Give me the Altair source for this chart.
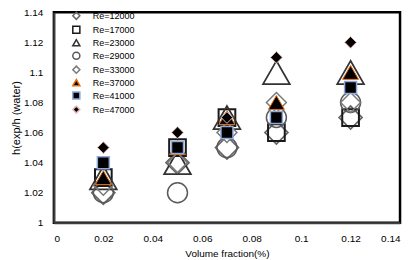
import altair as alt
import pandas as pd

x_vals = [0.02, 0.05, 0.07, 0.09, 0.12]
series_labels = ["Re=12000", "Re=17000", "Re=23000", "Re=29000",
                 "Re=33000", "Re=37000", "Re=41000", "Re=47000"]
re_12000 = [1.02, 1.04, 1.05, 1.06, 1.07]
re_17000 = [1.03, 1.05, 1.07, 1.06, 1.07]
re_23000 = [1.03, 1.04, 1.07, 1.10, 1.10]
re_29000 = [1.02, 1.02, 1.05, 1.07, 1.08]
re_33000 = [1.025, 1.04, 1.06, 1.08, 1.08]
re_37000 = [1.03, 1.05, 1.07, 1.08, 1.10]
re_41000 = [1.04, 1.05, 1.06, 1.07, 1.09]
re_47000 = [1.05, 1.06, 1.07, 1.11, 1.12]
series_values = [re_12000, re_17000, re_23000, re_29000,
                 re_33000, re_37000, re_41000, re_47000]

x_ticks = [0, 0.02, 0.04, 0.06, 0.08, 0.1, 0.12, 0.14]
y_ticks = [1, 1.02, 1.04, 1.06, 1.08, 1.1, 1.12, 1.14]

# marker styles (one per series)
shapes = ["diamond", "square", "triangle-up", "circle",
          "diamond", "triangle-up", "square", "diamond"]
fills = ["transparent"] * 5 + ["#000000"] * 3
strokes = ["#666666", "#1a1a1a", "#333333", "#5a5a5a",
           "#7a7a7a", "#E46C0A", "#8EA9DB", "#E6B8B7"]
sizes = [529, 280, 720, 400, 400, 256, 144, 137]
stroke_widths = [1.75, 2, 1.75, 1.5, 1.5, 1, 1.5, 1]

rows = []
for i, (lab, vals) in enumerate(zip(series_labels, series_values)):
    for x, y in zip(x_vals, vals):
        rows.append({"Re": lab, "x": x, "y": y,
                     "sz": sizes[i], "sw": stroke_widths[i]})
df = pd.DataFrame(rows)

FONT = "Liberation Sans"

legend = alt.Legend(title=None, orient="none", legendX=18, legendY=-1,
                    padding=0, rowPadding=-1, symbolSize=50,
                    symbolStrokeWidth=1.5, labelFontSize=9,
                    labelFont=FONT, labelColor="#000", labelOffset=12)

chart = (
    alt.Chart(df)
    .mark_point(opacity=1, filled=False)
    .encode(
        x=alt.X("x:Q", scale=alt.Scale(domain=[0, 0.14], nice=False),
                axis=alt.Axis(values=x_ticks, format="~g", title="Volume fraction(%)",
                              labelPadding=11, titlePadding=5)),
        y=alt.Y("y:Q", scale=alt.Scale(domain=[1, 1.14], nice=False, zero=False),
                axis=alt.Axis(values=y_ticks, format="~g", title="h(exp/h (water)",
                              labelPadding=11, titlePadding=2, titleFontSize=11)),
        shape=alt.Shape("Re:N", scale=alt.Scale(domain=series_labels, range=shapes), legend=legend),
        fill=alt.Fill("Re:N", scale=alt.Scale(domain=series_labels, range=fills), legend=legend),
        stroke=alt.Stroke("Re:N", scale=alt.Scale(domain=series_labels, range=strokes), legend=legend),
        size=alt.Size("sz:Q", scale=None, legend=None),
        strokeWidth=alt.StrokeWidth("sw:Q", scale=None, legend=None),
    )
    .properties(width=347, height=211, autosize="none",
                padding={"left": 46, "top": 4, "right": 10, "bottom": 37})
    .configure_view(stroke="#000000", strokeWidth=2.5)
    .configure_axis(domainColor="#404040", domainWidth=2, ticks=False, grid=False,
                    labelFont=FONT, labelFontSize=10, labelColor="#000",
                    titleFont=FONT, titleFontSize=10, titleFontWeight="normal",
                    titleColor="#000")
)

chart.save("out.html", embed_options={"renderer": "svg", "actions": False})
